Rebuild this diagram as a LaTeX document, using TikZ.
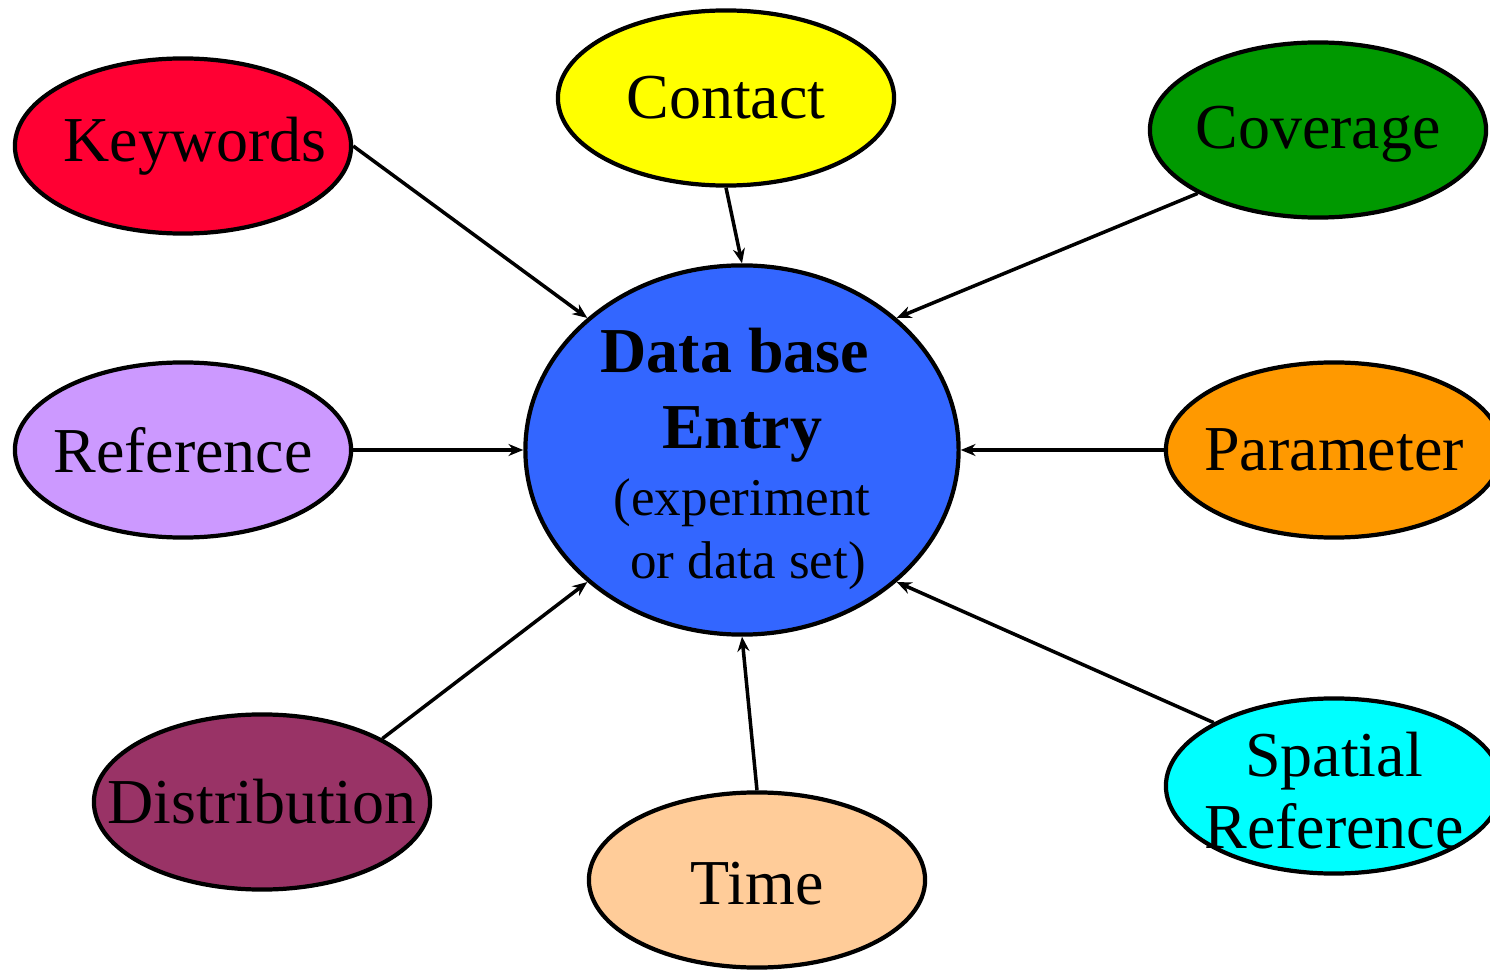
\documentclass[tikz,border=0pt]{standalone}
\usepackage{fontspec}
\setmainfont{Liberation Serif}
\usetikzlibrary{shapes.geometric,arrows.meta}
\definecolor{hubblue}{HTML}{3366FF}
\definecolor{kwred}{HTML}{FF0033}
\definecolor{ctyellow}{HTML}{FFFF00}
\definecolor{cvgreen}{HTML}{009900}
\definecolor{rflilac}{HTML}{CC99FF}
\definecolor{pmorange}{HTML}{FF9900}
\definecolor{dsplum}{HTML}{993366}
\definecolor{tmpeach}{HTML}{FFCC99}
\definecolor{spcyan}{HTML}{00FFFF}
\tikzset{
	topic/.style={ellipse, draw=black, line width=1.2pt, minimum width=3.36cm, minimum height=1.75cm, inner sep=0pt},
	topiclbl/.style={font=\fontsize{18.2}{20.5}\selectfont, align=center, inner sep=0pt},
	feed/.style={line width=1pt, -{Stealth[length=4.2pt,width=3.4pt]}}
}

\begin{document}
\begin{tikzpicture}[x=0.01cm,y=-0.01cm]
				%%%%% START %%%%%
				\useasboundingbox (0,0) rectangle (1490,970);

				\node[topic, fill=hubblue, minimum width=4.33cm, minimum height=3.69cm] (entry) at (742,450) {};
				\node[align=center, inner sep=0pt, font=\fontsize{18.2}{21.6}\selectfont] (entrytxt) at (742,459)
					{{\bfseries Data base}\hspace*{0.14cm}\\{\bfseries Entry}\\[-2.55pt]{\fontsize{15.1}{18}\selectfont (experiment}\\[-3.7pt]\hspace*{0.12cm}{\fontsize{15.1}{18}\selectfont or data set)}};

				\node[topic, fill=kwred, label={[topiclbl, xshift=0.12cm]center:Keywords}] (keywords) at (183,146) {};
				\node[topic, fill=ctyellow, label={[topiclbl]center:Contact}] (contact) at (726,98) {};
				\node[topic, fill=cvgreen, label={[topiclbl, yshift=-0.04cm]center:Coverage}] (coverage) at (1318,130) {};
				\node[topic, fill=rflilac, label={[topiclbl]center:Reference}] (reference) at (183,450) {};
				\node[topic, fill=pmorange, label={[topiclbl]center:Parameter}] (parameter) at (1334,450) {};
				\node[topic, fill=dsplum, label={[topiclbl]center:Distribution}] (distribution) at (262,802) {};
				\node[topic, fill=tmpeach, label={[topiclbl, yshift=-0.04cm]center:Time}] (time) at (757,880) {};
				\node[topic, fill=spcyan, label={[topiclbl, yshift=-0.05cm]center:Spatial\\Reference}] (spatial) at (1334,786) {};

				\draw[feed] (keywords.east) -- (entry.north west);
				\draw[feed] (contact.south) -- (entry.north);
				\draw[feed] (coverage.south west) -- (entry.north east);
				\draw[feed] (reference.east) -- (entry.west);
				\draw[feed] (parameter.west) -- (entry.east);
				\draw[feed] (distribution.north east) -- (entry.south west);
				\draw[feed] (time.north) -- (entry.south);
				\draw[feed] (spatial.north west) -- (entry.south east);
				%%%%% END %%%%%
\end{tikzpicture}
\end{document}
